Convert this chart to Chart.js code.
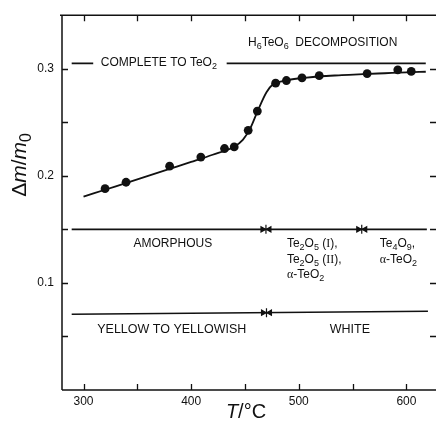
<!DOCTYPE html>
<html>
<head>
<meta charset="utf-8">
<script src="https://cdn.jsdelivr.net/npm/chart.js@4.4.1/dist/chart.umd.min.js"></script>
<style>
  html, body { margin: 0; padding: 0; background: #fff; }
  #wrap { width: 436px; height: 425px; position: relative; }
</style>
</head>
<body>
<div id="wrap"><canvas id="c"></canvas></div>
<script>
// ---- data ----
const measuredT = [320, 339.5, 380, 409, 431, 440, 453, 461.5, 478.5, 488.5, 503, 519, 563.5, 592, 604.5];
const measuredDm = [0.188, 0.194, 0.209, 0.2175, 0.2255, 0.227, 0.2425, 0.2605, 0.2865, 0.289, 0.2915, 0.2935, 0.2955, 0.299, 0.2975];

const fitT = [300, 320, 340, 360, 380, 400, 420, 440, 448, 455, 462, 470, 476, 482, 490, 505, 520, 540, 560, 580, 600, 618];
const fitDm = [0.1805, 0.1870, 0.1935, 0.2000, 0.2065, 0.2130, 0.2197, 0.2272, 0.2335, 0.2445, 0.2610, 0.2780, 0.2855, 0.2878, 0.2895, 0.2915, 0.2930, 0.2940, 0.2950, 0.2958, 0.2966, 0.2972];

const completeLevel = 0.305;            // complete decomposition to TeO2
const completeT = [289, 309, 433, 618];  // line ends (gap holds the label)
const phaseLevel = 0.15;
const phaseT = [289, 619];
const phaseBounds = [469.5, 558.5];
const colourLevel = [0.0707, 0.0735];
const colourT = [289, 620];
const colourBounds = [470];

const xTicks = [300, 350, 400, 450, 500, 550, 600];
const xLabelled = [300, 400, 500, 600];
const yTicks = [0.05, 0.1, 0.15, 0.2, 0.25, 0.3];
const yLabelled = [0.1, 0.2, 0.3];

// ---- build datasets ----
const FONT = '"Liberation Sans", Arial, Helvetica, sans-serif';
const SERIF = '"Liberation Serif", "Times New Roman", serif';

function pts(xs, ys) { return xs.map((x, i) => ({ x: x, y: ys[i] })); }

const arrowPts = [], arrowRot = [], arrowStyle = [], arrowRad = [];
function addBoundary(t, level) {
  arrowPts.push({ x: t - 3.2, y: level }); arrowRot.push(90); arrowStyle.push('triangle'); arrowRad.push(3);
  arrowPts.push({ x: t + 3.2, y: level }); arrowRot.push(-90); arrowStyle.push('triangle'); arrowRad.push(3);
  arrowPts.push({ x: t, y: level }); arrowRot.push(90); arrowStyle.push('line'); arrowRad.push(4.5);
}
phaseBounds.forEach(t => addBoundary(t, phaseLevel));
colourBounds.forEach(t => addBoundary(t, (colourLevel[0] + colourLevel[1]) / 2 + 0.0001));

const lineDefaults = { type: 'line', borderColor: '#111', borderWidth: 1.6, pointRadius: 0, fill: false, spanGaps: false };

const data = {
  datasets: [
    Object.assign({}, lineDefaults, { label: 'fit', data: pts(fitT, fitDm), cubicInterpolationMode: 'monotone', borderWidth: 1.8 }),
    { type: 'scatter', label: 'measured', data: pts(measuredT, measuredDm), pointRadius: 4.4, pointBackgroundColor: '#111', pointBorderColor: '#111', pointBorderWidth: 0 },
    Object.assign({}, lineDefaults, { label: 'complete', data: [
      { x: completeT[0], y: completeLevel }, { x: completeT[1], y: completeLevel },
      { x: (completeT[1] + completeT[2]) / 2, y: null },
      { x: completeT[2], y: completeLevel }, { x: completeT[3], y: completeLevel }] }),
    Object.assign({}, lineDefaults, { label: 'phase', data: [{ x: phaseT[0], y: phaseLevel }, { x: phaseT[1], y: phaseLevel }] }),
    Object.assign({}, lineDefaults, { label: 'colour', data: [{ x: colourT[0], y: colourLevel[0] }, { x: colourT[1], y: colourLevel[1] }] }),
    { type: 'scatter', label: 'arrows', data: arrowPts, pointStyle: arrowStyle, rotation: arrowRot, pointRadius: arrowRad,
      pointBackgroundColor: '#111', pointBorderColor: '#111', pointBorderWidth: 1.2 }
  ]
};

// ---- annotation texts (data coordinates) ----
const notes = [
  { x: 452.8, y: 0.3245, align: 'left', segs: [{ t: 'H' }, { t: '6', sub: 1 }, { t: 'TeO' }, { t: '6', sub: 1 }, { t: '  DECOMPOSITION' }] },
  { x: 370, y: 0.3055, align: 'center', segs: [{ t: 'COMPLETE TO TeO' }, { t: '2', sub: 1 }] },
  { x: 383, y: 0.1362, align: 'center', segs: [{ t: 'AMORPHOUS' }] },
  { x: 489, y: 0.1362, align: 'left', segs: [{ t: 'Te' }, { t: '2', sub: 1 }, { t: 'O' }, { t: '5', sub: 1 }, { t: ' (' }, { t: 'I', serif: 1 }, { t: '),' }] },
  { x: 489, y: 0.1217, align: 'left', segs: [{ t: 'Te' }, { t: '2', sub: 1 }, { t: 'O' }, { t: '5', sub: 1 }, { t: ' (' }, { t: 'II', serif: 1 }, { t: '),' }] },
  { x: 489, y: 0.1079, align: 'left', segs: [{ t: 'α', serif: 1 }, { t: '-TeO' }, { t: '2', sub: 1 }] },
  { x: 575.3, y: 0.1362, align: 'left', segs: [{ t: 'Te' }, { t: '4', sub: 1 }, { t: 'O' }, { t: '9', sub: 1 }, { t: ',' }] },
  { x: 575.3, y: 0.1217, align: 'left', segs: [{ t: 'α', serif: 1 }, { t: '-TeO' }, { t: '2', sub: 1 }] },
  { x: 382, y: 0.056, align: 'center', size: 12.5, segs: [{ t: 'YELLOW TO YELLOWISH' }] },
  { x: 547.5, y: 0.056, align: 'center', size: 12.5, segs: [{ t: 'WHITE' }] }
];

function segFont(s, size) {
  const sz = s.sub ? size * 0.75 : size;
  const st = s.italic ? 'italic ' : '';
  return st + sz + 'px ' + (s.serif ? SERIF : FONT);
}
function drawRich(ctx, segs, x, y, align, size) {
  let w = 0;
  segs.forEach(s => { ctx.font = segFont(s, size); w += ctx.measureText(s.t).width; });
  let cx = align === 'center' ? x - w / 2 : (align === 'right' ? x - w : x);
  ctx.fillStyle = '#111';
  ctx.textBaseline = 'middle';
  ctx.textAlign = 'left';
  segs.forEach(s => {
    ctx.font = segFont(s, size);
    ctx.fillText(s.t, cx, y + (s.sub ? size * 0.3 : 0));
    cx += ctx.measureText(s.t).width;
  });
  return w;
}

const framePlugin = {
  id: 'frame',
  afterDatasetsDraw(chart) {
    const ctx = chart.ctx, a = chart.chartArea, xs = chart.scales.x, ys = chart.scales.y;
    ctx.save();
    ctx.strokeStyle = '#111';
    ctx.lineWidth = 1.5;
    ctx.beginPath();
    ctx.moveTo(a.left - 2, a.top); ctx.lineTo(a.right, a.top);
    ctx.moveTo(a.left, a.top); ctx.lineTo(a.left, a.bottom);
    ctx.moveTo(a.left, a.bottom); ctx.lineTo(a.right, a.bottom);
    ctx.stroke();
    const L = 6;
    ctx.lineWidth = 1.3;
    ctx.beginPath();
    xs.ticks.forEach(t => {
      const px = Math.round(xs.getPixelForValue(t.value)) + 0.5;
      ctx.moveTo(px, a.bottom); ctx.lineTo(px, a.bottom - L);
      ctx.moveTo(px, a.top); ctx.lineTo(px, a.top + L);
    });
    ys.ticks.forEach(t => {
      const py = Math.round(ys.getPixelForValue(t.value)) + 0.5;
      ctx.moveTo(a.left, py); ctx.lineTo(a.left + L, py);
      ctx.moveTo(a.right, py); ctx.lineTo(a.right - L, py);
    });
    ctx.stroke();
    notes.forEach(n => {
      drawRich(ctx, n.segs, xs.getPixelForValue(n.x), ys.getPixelForValue(n.y), n.align, n.size || 12);
    });
    drawRich(ctx, [{ t: 'T', italic: 1 }, { t: '/°C' }], 246, 412.5, 'center', 20);
    ctx.save();
    ctx.translate(20, 165);
    ctx.rotate(-Math.PI / 2);
    drawRich(ctx, [{ t: 'Δ' }, { t: 'm', italic: 1 }, { t: '/' }, { t: 'm', italic: 1 }, { t: '0', sub: 1 }], 0, 0, 'center', 21);
    ctx.restore();
    ctx.restore();
  }
};

new Chart(document.getElementById('c'), {
  data: data,
  plugins: [framePlugin],
  options: {
    responsive: true,
    maintainAspectRatio: false,
    animation: false,
    layout: { autoPadding: false, padding: { top: 14, right: 0, left: 0, bottom: 0 } },
    plugins: { legend: { display: false }, tooltip: { enabled: false } },
    scales: {
      x: {
        type: 'linear', min: 280, max: 627.5,
        grid: { display: false, drawTicks: false },
        border: { display: false },
        afterBuildTicks: s => { s.ticks = xTicks.map(v => ({ value: v })); },
        afterFit: s => { s.height = 35; },
        ticks: {
          padding: 4, color: '#111', maxRotation: 0, autoSkip: false,
          font: { family: FONT, size: 12 },
          callback: v => xLabelled.includes(v) ? String(v) : ''
        }
      },
      y: {
        type: 'linear', min: 0, max: 0.35,
        grid: { display: false, drawTicks: false },
        border: { display: false },
        afterBuildTicks: s => { s.ticks = yTicks.map(v => ({ value: v })); },
        afterFit: s => { s.width = 62; },
        ticks: {
          padding: 8, color: '#111', autoSkip: false,
          font: { family: FONT, size: 12 },
          callback: v => yLabelled.some(l => Math.abs(l - v) < 1e-9) ? v.toFixed(1) : ''
        }
      }
    }
  }
});
</script>
</body>
</html>
